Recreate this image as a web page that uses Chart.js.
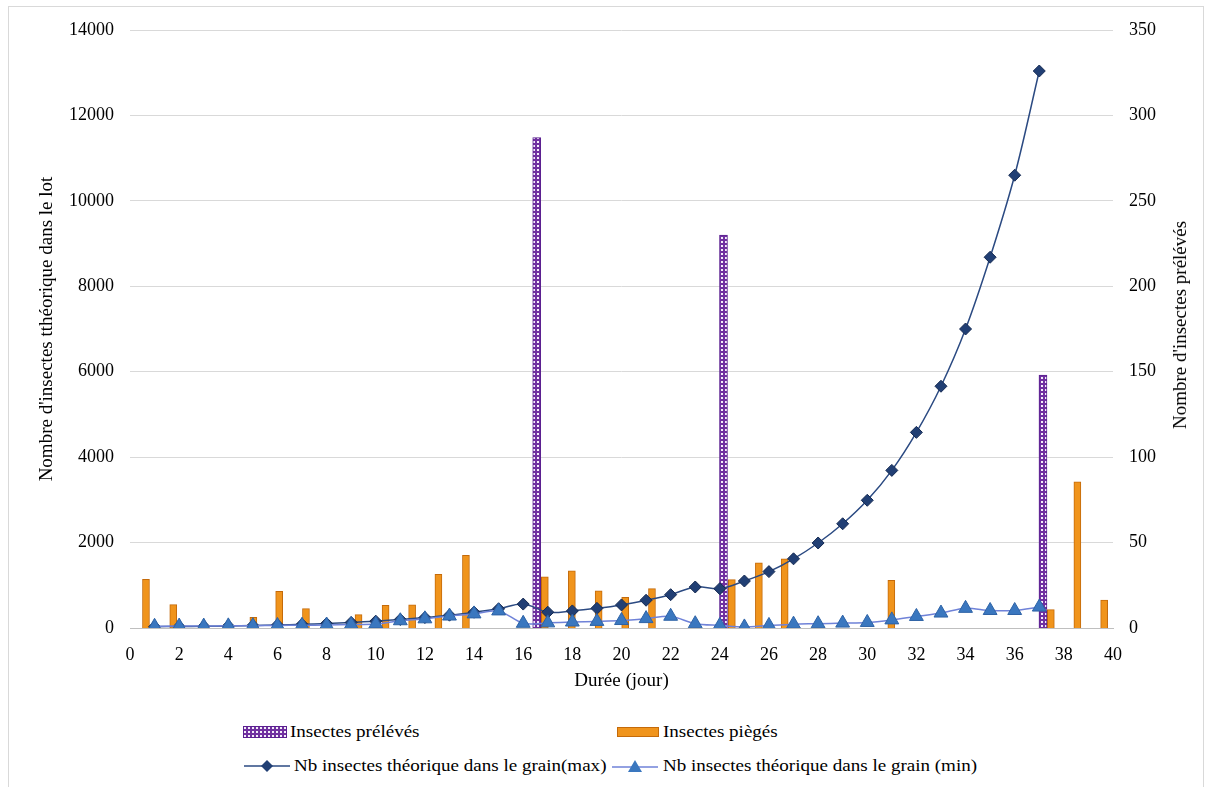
<!DOCTYPE html>
<html>
<head>
<meta charset="utf-8">
<script src="https://cdn.jsdelivr.net/npm/chart.js@4"></script>
<style>
  body { margin: 0; background: #fff; font-family: "Liberation Serif", "Times New Roman", "DejaVu Serif", serif; }
  #wrap { position: relative; width: 1212px; height: 787px; overflow: hidden; }
  #frame { position: absolute; left: 8px; top: 6px; width: 1196px; height: 800px; border: 1px solid #d9d9d9; box-sizing: border-box; }
  canvas { position: absolute; left: 0; top: 0; }
  .ytitle-r { position: absolute; left: 1180px; top: 325px; transform: translate(-50%, -50%) rotate(-90deg); white-space: nowrap; font-size: 19px; color: #000; }
  .leg { position: absolute; font-family: "Liberation Serif", "Times New Roman", serif; font-size: 17px; color: #000; white-space: nowrap; transform: translateY(-50%); }
  .leg span { display: inline-block; transform-origin: left center; transform: scaleX(1.12); }
  .key { position: absolute; transform: translateY(-50%); }
</style>
</head>
<body>
<div id="wrap">
  <div id="frame"></div>
  <canvas id="chart" width="1212" height="696"></canvas>
  <div class="ytitle-r">Nombre d'insectes prélévés</div>

  <canvas class="key" id="k1" width="44" height="12" style="left:243px;top:732px"></canvas>
  <div class="leg" style="left:290px;top:732px"><span>Insectes prélévés</span></div>
  <canvas class="key" id="k2" width="42" height="10" style="left:617px;top:732px"></canvas>
  <div class="leg" style="left:663px;top:732px"><span>Insectes piègés</span></div>
  <canvas class="key" id="k3" width="46" height="16" style="left:244px;top:766px"></canvas>
  <div class="leg" style="left:294px;top:766px"><span>Nb insectes théorique dans le grain(max)</span></div>
  <canvas class="key" id="k4" width="46" height="16" style="left:612px;top:766px"></canvas>
  <div class="leg" style="left:663px;top:766px"><span>Nb insectes théorique dans le grain (min)</span></div>
</div>
<script>
// jours (axe x lineaire 0..40)
const days = [1,2,3,4,5,6,7,8,9,10,11,12,13,14,15,16,17,18,19,20,21,22,23,24,25,26,27,28,29,30,31,32,33,34,35,36,37];
const maxVals = [30,35,40,48,58,70,85,105,130,160,200,245,300,370,450,560,370,400,460,540,650,780,960,920,1100,1320,1620,1990,2440,2990,3690,4580,5660,7000,8680,10600,13040];
const minVals = [40,45,45,50,55,60,65,70,80,95,170,215,280,330,400,110,120,140,155,175,220,275,100,60,25,60,90,100,115,130,190,270,350,460,410,410,490];

// insectes pieges (axe de droite)
const trapX = [0.65,1.76,5.02,6.07,7.16,9.3,10.4,11.48,12.55,13.67,16.88,17.98,19.07,20.15,21.24,24.49,25.59,26.64,30.98,37.47,38.55,39.64];
const trapY = [28.5,13.7,6.3,21.5,11.3,7.8,13.2,13.5,31.4,42.5,30,33.5,21.8,17.9,23,28.3,38.2,40.5,27.9,10.8,85.5,16.4];

// insectes preleves (axe de droite)
const sampleX = [16.55,24.15,37.15];
const sampleY = [287,230,148];

const xTicks = { min: 0, max: 40, step: 2 };
const leftTicks = { min: 0, max: 14000, step: 2000 };
const rightTicks = { min: 0, max: 350, step: 50 };

const PURPLE = "#7030a0";
const ORANGE = "#f0941c";
const NAVY = "#213f74";
const BLUE = "#3a77bf";

function dotPattern() {
  const c = document.createElement("canvas");
  c.width = 4; c.height = 4;
  const g = c.getContext("2d");
  g.fillStyle = PURPLE;
  g.fillRect(0, 0, 4, 4);
  g.fillStyle = "#f4eefa";
  g.fillRect(1, 1, 2, 2);
  return g.createPattern(c, "repeat");
}
const pattern = dotPattern();

const font = { family: "'Liberation Serif', 'Times New Roman', 'DejaVu Serif', serif", size: 18 };
const titleFont = { ...font, size: 19 };
const plain = v => String(v);

new Chart(document.getElementById("chart"), {
  type: "bar",
  data: {
    datasets: [
      {
        type: "line",
        label: "Nb insectes théorique dans le grain(max)",
        data: days.map((d, i) => ({ x: d, y: maxVals[i] })),
        yAxisID: "y",
        borderColor: "#2b4a82",
        borderWidth: 1.5,
        pointStyle: "rectRot",
        pointRadius: 6,
        pointBackgroundColor: NAVY,
        pointBorderColor: "#152a52",
        pointBorderWidth: 1,
        tension: 0.35,
        order: 1
      },
      {
        type: "line",
        label: "Nb insectes théorique dans le grain (min)",
        data: days.map((d, i) => ({ x: d, y: minVals[i] })),
        yAxisID: "y",
        borderColor: "#6f82d8",
        borderWidth: 1.5,
        pointStyle: "triangle",
        pointRadius: 8,
        pointBackgroundColor: BLUE,
        pointBorderColor: "#2e63a6",
        pointBorderWidth: 1,
        tension: 0.3,
        order: 0
      },
      {
        label: "Insectes prélévés",
        data: sampleX.map((x, i) => ({ x, y: sampleY[i] })),
        yAxisID: "y1",
        backgroundColor: pattern,
        borderColor: "#5b2090",
        borderWidth: 1,
        barThickness: 8,
        grouped: false,
        order: 2
      },
      {
        label: "Insectes piègés",
        data: trapX.map((x, i) => ({ x, y: trapY[i] })),
        yAxisID: "y1",
        backgroundColor: ORANGE,
        borderColor: "#c46a0a",
        borderWidth: 1,
        barThickness: 7,
        grouped: false,
        order: 3
      }
    ]
  },
  options: {
    responsive: false,
    animation: false,
    layout: { padding: { top: 30, left: 0, right: 0, bottom: 0 } },
    plugins: { legend: { display: false }, tooltip: { enabled: false } },
    scales: {
      x: {
        type: "linear",
        offset: false,
        min: xTicks.min, max: xTicks.max,
        afterFit: s => { s.height = 68; },
        ticks: { stepSize: xTicks.step, color: "#000", font, padding: 8, maxRotation: 0, callback: plain },
        grid: { display: false },
        border: { display: true, color: "#bfbfbf", width: 1 },
        title: { display: true, text: "Durée (jour)", color: "#000", font: titleFont, padding: { top: 4, bottom: 4 } }
      },
      y: {
        position: "left",
        min: leftTicks.min, max: leftTicks.max,
        afterFit: s => { s.width = 130; },
        ticks: { stepSize: leftTicks.step, color: "#000", font, padding: 16, callback: plain },
        grid: { color: "#d9d9d9", drawTicks: false },
        border: { display: false },
        title: { display: true, text: "Nombre d'insectes tthéorique dans le lot", color: "#000", font: titleFont, padding: { top: 36 } }
      },
      y1: {
        position: "right",
        min: rightTicks.min, max: rightTicks.max,
        afterFit: s => { s.width = 99; },
        ticks: { stepSize: rightTicks.step, color: "#000", font, padding: 16, callback: plain },
        grid: { display: false, drawTicks: false },
        border: { display: false }
      }
    }
  }
});

// legend keys
function drawKeys() {
  let g = document.getElementById("k1").getContext("2d");
  g.fillStyle = pattern; g.fillRect(0, 0, 44, 12);
  g.strokeStyle = "#5b2090"; g.strokeRect(0.5, 0.5, 43, 11);

  g = document.getElementById("k2").getContext("2d");
  g.fillStyle = ORANGE; g.fillRect(0, 0, 42, 10);
  g.strokeStyle = "#c46a0a"; g.strokeRect(0.5, 0.5, 41, 9);

  g = document.getElementById("k3").getContext("2d");
  g.strokeStyle = "#2b4a82"; g.lineWidth = 1.5;
  g.beginPath(); g.moveTo(0, 8); g.lineTo(46, 8); g.stroke();
  g.fillStyle = NAVY;
  g.beginPath(); g.moveTo(23, 2); g.lineTo(29, 8); g.lineTo(23, 14); g.lineTo(17, 8); g.closePath(); g.fill();

  g = document.getElementById("k4").getContext("2d");
  g.strokeStyle = "#6f82d8"; g.lineWidth = 1.5;
  g.beginPath(); g.moveTo(0, 9); g.lineTo(46, 9); g.stroke();
  g.fillStyle = BLUE;
  g.beginPath(); g.moveTo(23, 2); g.lineTo(30, 14); g.lineTo(16, 14); g.closePath(); g.fill();
}
drawKeys();
</script>
</body>
</html>
